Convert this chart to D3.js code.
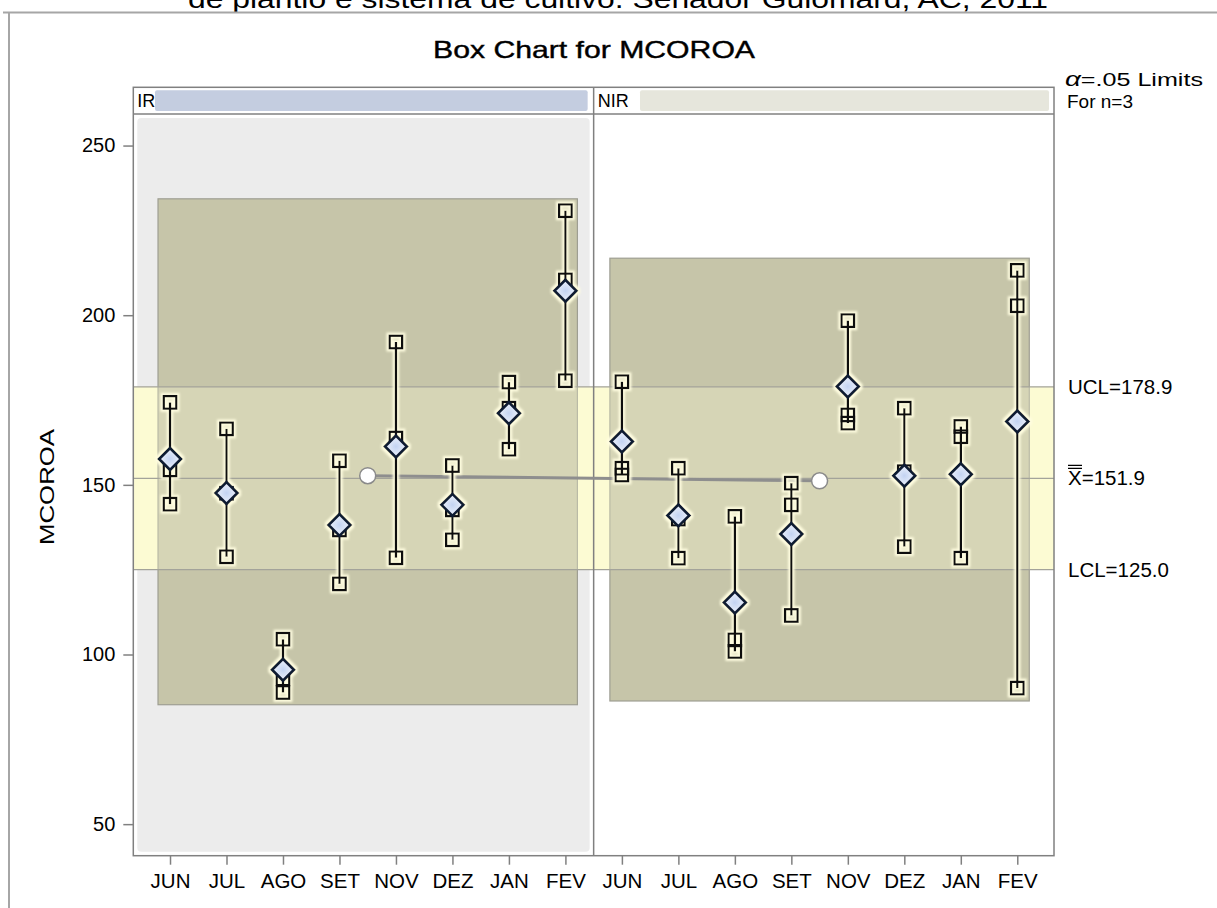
<!DOCTYPE html>
<html><head><meta charset="utf-8">
<script src="https://cdn.jsdelivr.net/npm/d3@7"></script>
<style>body{margin:0;background:#fff}svg{display:block}text{font-family:"Liberation Sans",Arial,sans-serif;fill:#000}</style>
</head><body><div id="chart"></div>
<script>
const phases = ["IR", "NIR"];
const months = ["JUN", "JUL", "AGO", "SET", "NOV", "DEZ", "JAN", "FEV"];
const irObs = [[174.3,154.4,144.3],[166.5,147.5,128.8],[104.5,92.8,88.8],[157.1,136.7,120.8],[192.1,163.8,128.5],[155.7,142.6,133.8],[180.3,172.6,160.5],[230.8,210.4,180.7]];
const nirObs = [[180.4,154.9,152.9],[154.9,139.9,128.4],[140.7,104.3,100.9],[150.5,144.1,111.5],[198.4,170.6,168.2],[172.6,153.9,131.8],[167.2,164.2,128.4],[213.2,202.8,90.1]];
const irMean = [157.6,147.6,95.5,138.2,161.3,144.1,171.1,207.2];
const nirMean = [162.8,141.0,115.3,135.5,179.0,152.7,153.1,168.7];
const phaseMean = [152.7, 151.2];
const phaseBoxLow = [85.2, 86.3];
const phaseBoxHigh = [234.3, 216.8];
const LCL = 125.0, CL = 151.9, UCL = 178.9;
const yTicks = [50, 100, 150, 200, 250];
const titleText = "Box Chart for MCOROA";
const subtitleText = "de plantio e sistema de cultivo. Senador Guiomard, AC, 2011";

const W = 1217, H = 908;
const L = 133.3, R = 1054, T = 114, B = 855.7, stripTop = 87.3;
const svg = d3.select("#chart").append("svg").attr("width", W).attr("height", H);
const defs = svg.append("defs");
const f = defs.append("filter").attr("id","glow").attr("filterUnits","userSpaceOnUse")
  .attr("x",0).attr("y",0).attr("width",W).attr("height",H);
f.append("feMorphology").attr("in","SourceAlpha").attr("operator","dilate").attr("radius",1.5).attr("result","d");
f.append("feGaussianBlur").attr("in","d").attr("stdDeviation",1.2).attr("result","b");
f.append("feFlood").attr("flood-color","#fffde0");
f.append("feComposite").attr("in2","b").attr("operator","in").attr("result","g");
const fm = f.append("feMerge"); fm.append("feMergeNode").attr("in","g"); fm.append("feMergeNode").attr("in","SourceGraphic");
const rg = defs.append("radialGradient").attr("id","dia");
rg.append("stop").attr("offset","0%").attr("stop-color","#c3d3f2");
rg.append("stop").attr("offset","100%").attr("stop-color","#eef3fb");

const keys = [];
phases.forEach(p => months.forEach(m => keys.push(p + "|" + m)));
const x = d3.scalePoint().domain(keys).range([L, R]).padding(0.65);
const y = d3.scaleLinear().domain([40.7, 259.3]).range([B, T]);

// outer page frame & subtitle cut at the top edge, as in the source image
svg.append("text").attr("x", 618).attr("y", 8).attr("text-anchor","middle").attr("font-size",26)
  .attr("textLength", 860).attr("lengthAdjust","spacingAndGlyphs").text(subtitleText);
svg.append("path").attr("d", `M3,12.5H${W}M9,12.5V${H}`).attr("fill","none").attr("stroke","#a6a6a6").attr("stroke-width",2);

svg.append("text").attr("x", 594).attr("y", 58).attr("text-anchor","middle").attr("font-size",24)
  .attr("stroke","#000").attr("stroke-width",0.4)
  .attr("textLength", 322).attr("lengthAdjust","spacingAndGlyphs").text(titleText);

// IR panel background
const divX = (x("IR|FEV") + x("NIR|JUN")) / 2;
svg.append("rect").attr("x", L+4).attr("y", T+4).attr("width", divX - L - 8).attr("height", B - T - 8).attr("rx",4).attr("fill","#ececec");

// control band
svg.append("rect").attr("x", L).attr("y", y(UCL)).attr("width", R-L).attr("height", y(LCL)-y(UCL)).attr("fill","#fdfbd3");

// phase boxes
phases.forEach((p,i) => {
  const x0 = x(p+"|"+months[0]) - 12, x1 = x(p+"|"+months[months.length-1]) + 12;
  svg.append("rect").attr("x", x0).attr("y", y(phaseBoxHigh[i])).attr("width", x1-x0)
    .attr("height", y(phaseBoxLow[i]) - y(phaseBoxHigh[i])).attr("fill","#c6c5a9").attr("stroke","#9e9e92").attr("stroke-width",1.2);
});
svg.append("rect").attr("x", L).attr("y", y(UCL)).attr("width", R-L).attr("height", y(LCL)-y(UCL)).attr("fill","#fdfbd3").attr("opacity",0.3);

// control lines
[UCL, CL, LCL].forEach(v => svg.append("line").attr("x1", L).attr("x2", R).attr("y1", y(v)).attr("y2", y(v)).attr("stroke","#a3a39a").attr("stroke-width",1.2));

// divider & frame
svg.append("line").attr("x1", divX).attr("x2", divX).attr("y1", stripTop).attr("y2", B).attr("stroke","#808080").attr("stroke-width",1.5);
svg.append("rect").attr("x", L).attr("y", stripTop).attr("width", R-L).attr("height", B-stripTop).attr("fill","none").attr("stroke","#808080").attr("stroke-width",1.5);
svg.append("line").attr("x1", L).attr("x2", R).attr("y1", T).attr("y2", T).attr("stroke","#808080").attr("stroke-width",1.5);

// strip bars and labels
const stripBars = [{x0: 155, x1: divX - 6, c: "#c4cde0"}, {x0: 640, x1: R - 5, c: "#e6e6dc"}];
phases.forEach((p,i) => {
  const sx = i === 0 ? L : divX;
  svg.append("rect").attr("x", stripBars[i].x0).attr("y", stripTop + 3).attr("width", stripBars[i].x1 - stripBars[i].x0).attr("height", T - stripTop - 6).attr("rx",2).attr("fill", stripBars[i].c);
  svg.append("text").attr("x", sx + 4).attr("y", 107).attr("font-size",18).text(p);
});

// axes
const ya = svg.append("g").attr("transform", `translate(${L},0)`).call(d3.axisLeft(y).tickValues(yTicks).tickSize(10).tickPadding(8));
ya.select(".domain").remove();
ya.selectAll("line").attr("stroke","#808080").attr("stroke-width",1.5);
ya.selectAll("text").attr("font-size",20).attr("font-family","Liberation Sans, Arial, sans-serif");
const xa = svg.append("g").attr("transform", `translate(0,${B})`).call(d3.axisBottom(x).tickSize(9).tickPadding(9).tickFormat(k => k.split("|")[1]));
xa.select(".domain").remove();
xa.selectAll("line").attr("stroke","#808080").attr("stroke-width",1.5);
xa.selectAll("text").attr("font-size",20.5).attr("font-family","Liberation Sans, Arial, sans-serif");

svg.append("text").attr("transform", `translate(54,487) rotate(-90)`).attr("text-anchor","middle").attr("font-size",21)
  .attr("textLength", 116).attr("lengthAdjust","spacingAndGlyphs").text("MCOROA");

// right labels
const al = svg.append("text").attr("x",1065).attr("y",86).attr("font-size",19)
  .attr("textLength", 138).attr("lengthAdjust","spacingAndGlyphs");
al.append("tspan").attr("font-style","italic").attr("font-size",21).text("\u03B1");
al.append("tspan").text("=.05 Limits");
svg.append("text").attr("x",1067).attr("y",108).attr("font-size",19).text("For n=3");
svg.append("text").attr("x",1068).attr("y",y(UCL)+7).attr("font-size",20.5).text("UCL=" + UCL.toFixed(1));
svg.append("text").attr("x",1068).attr("y",y(LCL)+7).attr("font-size",20.5).text("LCL=" + LCL.toFixed(1));
svg.append("text").attr("x",1068).attr("y",y(CL)+7).attr("font-size",20.5).text("X=" + CL.toFixed(1));
svg.append("path").attr("d", `M1068,${y(CL)-10}h14M1068,${y(CL)-13}h14`).attr("stroke","#000").attr("stroke-width",1.2);

// phase mean line
const pm = phases.map((p,i) => ({x: (x(p+"|"+months[0]) + x(p+"|"+months[months.length-1]))/2, y: y(phaseMean[i])}));
svg.append("line").attr("x1", pm[0].x).attr("y1", pm[0].y).attr("x2", pm[1].x).attr("y2", pm[1].y).attr("stroke","#8e8e8e").attr("stroke-width",3);
svg.selectAll(".pc").data(pm).enter().append("circle").attr("cx", d=>d.x).attr("cy", d=>d.y).attr("r",8).attr("fill","#fff").attr("stroke","#8a8a8a").attr("stroke-width",1.5);

// subgroup marks
const groups = [];
months.forEach((m,i) => groups.push({k: "IR|"+m, obs: irObs[i], mean: irMean[i]}));
months.forEach((m,i) => groups.push({k: "NIR|"+m, obs: nirObs[i], mean: nirMean[i]}));
const mg = svg.append("g").attr("filter","url(#glow)");
groups.forEach(g => {
  const cx = x(g.k);
  const s = 12.5;
  g.obs.forEach(v => mg.append("rect").attr("x", cx - s/2).attr("y", y(v) - s/2).attr("width", s).attr("height", s).attr("fill","none").attr("stroke","#111").attr("stroke-width",2.4));
  mg.append("line").attr("x1", cx).attr("x2", cx).attr("y1", y(d3.max(g.obs))).attr("y2", y(d3.min(g.obs))).attr("stroke","#111").attr("stroke-width",2.4);
  const h = 11, cy = y(g.mean);
  mg.append("path").attr("d", `M${cx},${cy-h}L${cx+h},${cy}L${cx},${cy+h}L${cx-h},${cy}Z`).attr("fill","url(#dia)").attr("stroke","#101a33").attr("stroke-width",2.8);
});
</script></body></html>
